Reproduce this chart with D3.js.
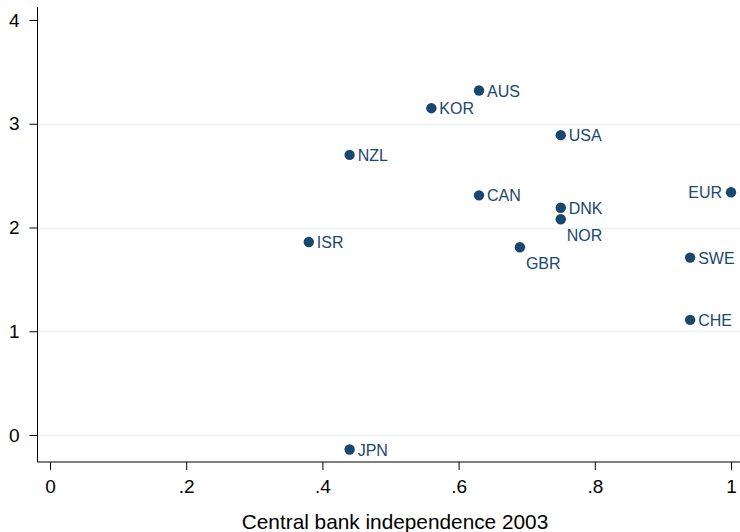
<!DOCTYPE html>
<html>
<head>
<meta charset="utf-8">
<script src="https://cdn.jsdelivr.net/npm/d3@7"></script>
<style>
  body { margin: 0; background: #fff; }
  text { font-family: "Liberation Sans", Arial, sans-serif; }
</style>
</head>
<body>
<svg id="chart" width="740" height="532"></svg>
<script>
'use strict';
// data
var countries = ["AUS", "KOR", "USA", "NZL", "CAN", "DNK", "NOR", "ISR", "GBR", "EUR", "SWE", "CHE", "JPN"];
var cbi       = [0.63, 0.56, 0.75, 0.44, 0.63, 0.75, 0.75, 0.38, 0.69, 1.00, 0.94, 0.94, 0.44];
var yvals     = [3.32, 3.15, 2.89, 2.70, 2.31, 2.19, 2.08, 1.86, 1.81, 2.34, 1.71, 1.11, -0.14];
// label clock position (Stata style)
var labelPos  = [3, 3, 3, 3, 3, 3, 5, 3, 5, 9, 3, 3, 3];
var xTicks = [0, 0.2, 0.4, 0.6, 0.8, 1];
var xTickLabels = ["0", ".2", ".4", ".6", ".8", "1"];
var yTicks = [0, 1, 2, 3, 4];
var gridVals = [0, 1, 2, 3];

var svg = d3.select("#chart");
var plotL = 37.5, plotR = 740, plotT = 7, plotB = 462;

var x = d3.scaleLinear().domain([0, 1]).range([50, 731]);
var y = d3.scaleLinear().domain([0, 4]).range([435, 20]);

// gridlines
svg.selectAll(".grid").data(gridVals).enter().append("line")
  .attr("x1", plotL).attr("x2", plotR)
  .attr("y1", function(d){ return Math.round(y(d)) + 0.5; })
  .attr("y2", function(d){ return Math.round(y(d)) + 0.5; })
  .attr("stroke", "#eaf2f3").attr("stroke-width", 1.5);

// y axis
var yAxis = d3.axisLeft(y).tickValues(yTicks).tickSize(8).tickPadding(10).tickFormat(d3.format("d"));
var gy = svg.append("g").attr("transform", "translate(" + plotL + ",0)").call(yAxis);
gy.select(".domain").attr("d", "M0," + plotT + "V" + plotB).attr("stroke", "#000");
gy.selectAll("text").attr("font-size", 19).attr("fill", "#000")
  .attr("font-family", "Liberation Sans, Arial, sans-serif");

// x axis
var xAxis = d3.axisBottom(x).tickValues(xTicks).tickSize(8).tickPadding(10)
  .tickFormat(function(d, i){ return xTickLabels[i]; });
var gx = svg.append("g").attr("transform", "translate(0," + plotB + ")").call(xAxis);
gx.select(".domain").attr("d", "M" + plotL + ",0H" + plotR).attr("stroke", "#000");
gx.selectAll("text").attr("font-size", 19).attr("fill", "#000")
  .attr("font-family", "Liberation Sans, Arial, sans-serif");

// axis title
svg.append("text").attr("x", 395).attr("y", 529).attr("text-anchor", "middle")
  .attr("font-size", 20.8).attr("fill", "#000").text("Central bank independence 2003");

// points
var pts = countries.map(function(c, i){ return {name: c, x: cbi[i], y: yvals[i], pos: labelPos[i]}; });

svg.selectAll(".dot").data(pts).enter().append("circle")
  .attr("cx", function(d){ return x(d.x); })
  .attr("cy", function(d){ return y(d.y); })
  .attr("r", 5.2).attr("fill", "#1a476f");

svg.selectAll(".lbl").data(pts).enter().append("text")
  .attr("x", function(d){
    if (d.pos == 9) return x(d.x) - 9;
    if (d.pos == 5) return x(d.x) + 6;
    return x(d.x) + 8;
  })
  .attr("y", function(d){
    if (d.pos == 5) return y(d.y) + 21.5;
    return y(d.y) + 6;
  })
  .attr("text-anchor", function(d){ return d.pos == 9 ? "end" : "start"; })
  .attr("font-size", 16).attr("fill", "#1a476f")
  .text(function(d){ return d.name; });
</script>
</body>
</html>
